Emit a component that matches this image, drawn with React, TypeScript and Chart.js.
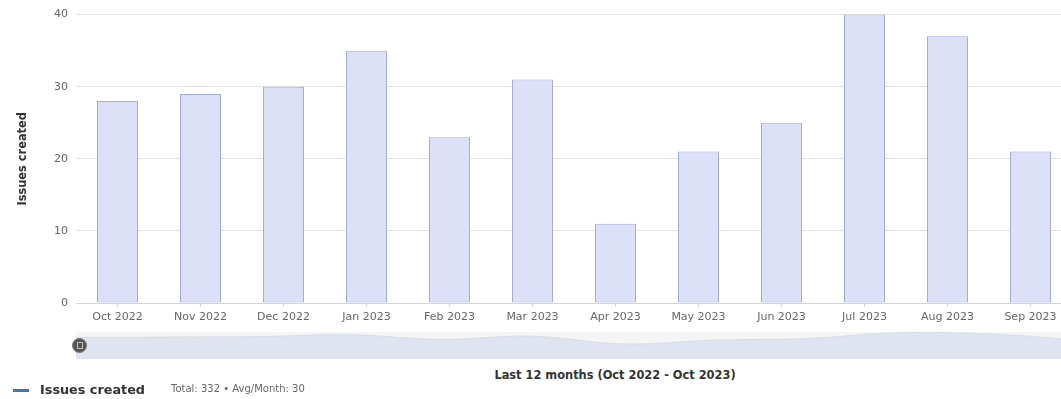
import React, { useEffect, useRef } from "react";
import { Chart, registerables } from "chart.js";

Chart.register(...registerables);

const months = [
  "Oct 2022", "Nov 2022", "Dec 2022", "Jan 2023", "Feb 2023", "Mar 2023",
  "Apr 2023", "May 2023", "Jun 2023", "Jul 2023", "Aug 2023", "Sep 2023",
];
const issuesCreated = [28, 29, 30, 35, 23, 31, 11, 21, 25, 40, 37, 21];
const yTicks = [0, 10, 20, 30, 40];
const yTitle = "Issues created";
const xTitle = "Last 12 months (Oct 2022 - Oct 2023)";
const legendLabel = "Issues created";
const legendStats = "Total: 332 \u2022 Avg/Month: 30";

const FONT = "'DejaVu Sans', sans-serif";

export default function App() {
  const mainRef = useRef<HTMLCanvasElement | null>(null);
  const navRef = useRef<HTMLCanvasElement | null>(null);

  useEffect(() => {
    const main = new Chart(mainRef.current!, {
      type: "bar",
      data: {
        labels: months,
        datasets: [
          {
            label: legendLabel,
            data: issuesCreated,
            backgroundColor: "#dde1f7",
            borderColor: "#a0aae7",
            borderWidth: 1,
            borderSkipped: false,
            categoryPercentage: 1,
            barPercentage: 41 / 83,
          },
        ],
      },
      options: {
        responsive: false,
        animation: false,
        layout: { padding: { left: 10, top: 14, right: 8, bottom: 0 } },
        plugins: { legend: { display: false }, tooltip: { enabled: false } },
        scales: {
          x: {
            grid: {
              display: true,
              drawOnChartArea: false,
              drawTicks: true,
              tickLength: 4,
              offset: false,
              color: "#ccd6eb",
            },
            border: { display: true, color: "#ccd6eb" },
            ticks: {
              color: "#666666",
              padding: 4,
              maxRotation: 0,
              autoSkip: false,
              font: { family: FONT, size: 11 },
            },
            afterFit: (s: any) => {
              s.height = 25;
            },
          },
          y: {
            min: yTicks[0],
            max: yTicks[yTicks.length - 1],
            afterBuildTicks: (s: any) => {
              s.ticks = yTicks.map((v) => ({ value: v }));
            },
            grid: { color: "#e2e2e2", drawTicks: false },
            border: { display: false },
            ticks: {
              color: "#666666",
              padding: 8,
              font: { family: FONT, size: 11 },
            },
            title: {
              display: true,
              text: yTitle,
              color: "#333333",
              padding: { top: 6, bottom: 0 },
              font: { family: FONT, size: 11.4, weight: "bold" },
            },
            afterFit: (s: any) => {
              s.width = 66;
            },
          },
        },
      },
    });

    const nav = new Chart(navRef.current!, {
      type: "line",
      data: {
        labels: months,
        datasets: [
          {
            data: issuesCreated,
            fill: "start",
            backgroundColor: "#dfe4f0",
            borderColor: "#d6dcea",
            borderWidth: 1,
            pointRadius: 0,
            tension: 0.4,
          },
        ],
      },
      options: {
        responsive: false,
        animation: false,
        layout: { padding: 0 },
        plugins: { legend: { display: false }, tooltip: { enabled: false } },
        scales: {
          x: { display: false, offset: false },
          y: { display: false, min: -28, max: 42 },
        },
      },
    });

    return () => {
      main.destroy();
      nav.destroy();
    };
  }, []);

  return (
    <div
      style={{
        position: "absolute",
        left: 0,
        top: 0,
        width: 1061,
        height: 399,
        overflow: "hidden",
        background: "#ffffff",
        fontFamily: FONT,
      }}
    >
      <canvas
        ref={mainRef}
        width={1080}
        height={328}
        style={{ position: "absolute", left: 0, top: 0, width: 1080, height: 328 }}
      />
      <div
        style={{
          position: "absolute",
          left: 76,
          top: 332,
          width: 1004,
          height: 27,
          background: "#f5f5f5",
        }}
      />
      <canvas
        ref={navRef}
        width={1004}
        height={27}
        style={{ position: "absolute", left: 76, top: 332, width: 1004, height: 27 }}
      />
      <div
        style={{
          position: "absolute",
          left: 72,
          top: 338,
          width: 15,
          height: 15,
          borderRadius: "50%",
          background: "#555555",
          border: "1px solid #7a7a7a",
          boxSizing: "border-box",
        }}
      >
        <div
          style={{
            position: "absolute",
            left: 3.5,
            top: 3,
            width: 6,
            height: 7,
            border: "1px solid #bdbdbd",
            boxSizing: "border-box",
          }}
        />
      </div>
      <div
        style={{
          position: "absolute",
          left: 415,
          top: 368,
          width: 400,
          textAlign: "center",
          fontSize: 11.4,
          lineHeight: "15px",
          fontWeight: "bold",
          color: "#333333",
          whiteSpace: "nowrap",
        }}
      >
        {xTitle}
      </div>
      <div
        style={{
          position: "absolute",
          left: 13,
          top: 389,
          width: 16,
          height: 3,
          background: "#3d77c2",
        }}
      />
      <div
        style={{
          position: "absolute",
          left: 40,
          top: 382,
          fontSize: 12.8,
          lineHeight: "16px",
          fontWeight: "bold",
          color: "#333333",
          whiteSpace: "nowrap",
        }}
      >
        {legendLabel}
      </div>
      <div
        style={{
          position: "absolute",
          left: 171,
          top: 383,
          fontSize: 10,
          lineHeight: "12px",
          color: "#666666",
          whiteSpace: "nowrap",
        }}
      >
        {legendStats}
      </div>
    </div>
  );
}
